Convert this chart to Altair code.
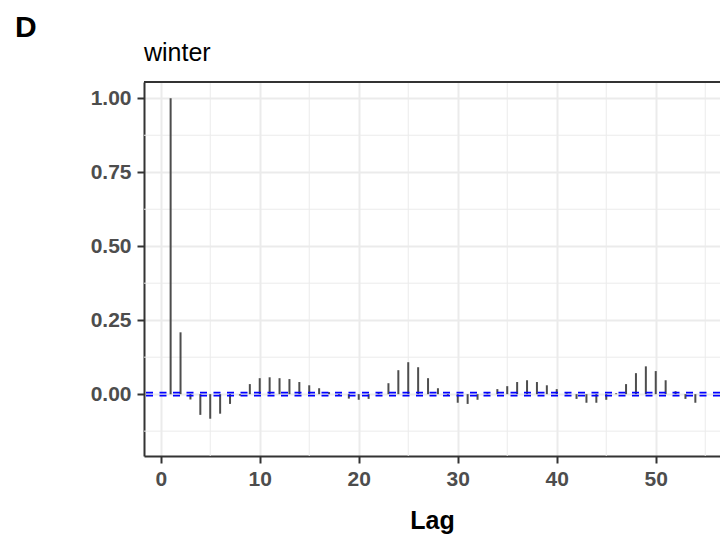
import altair as alt
import pandas as pd

# ---- text ----
panel_tag = ["D"]
panel_title = ["winter"]
x_title = "Lag"

# ---- data ----
lags = list(range(1, 55))
acf = [
    1.000, 0.209, -0.018, -0.070, -0.083, -0.066, -0.033, -0.005, 0.034, 0.054,
    0.057, 0.054, 0.051, 0.041, 0.030, 0.020, 0.007, -0.004, -0.015, -0.019,
    -0.016, 0.004, 0.037, 0.081, 0.108, 0.091, 0.054, 0.020, -0.003, -0.029,
    -0.033, -0.019, 0.003, 0.017, 0.027, 0.041, 0.047, 0.041, 0.030, 0.017,
    0.003, -0.016, -0.029, -0.029, -0.019, 0.003, 0.034, 0.071, 0.094, 0.078,
    0.047, 0.010, -0.016, -0.029,
]
ci = [0.0052, -0.0052]

x_major = [0, 10, 20, 30, 40, 50]
x_minor = [5, 15, 25, 35, 45, 55]
y_major = [0.0, 0.25, 0.5, 0.75, 1.0]
y_minor = [-0.125, 0.125, 0.375, 0.625, 0.875]

W, H = 576, 374
FONT = "Liberation Sans"
GRID = "#EBEBEB"
DARK = "#333333"

xscale = alt.Scale(domain=[-1.69, 56.49], nice=False, zero=False)
yscale = alt.Scale(domain=[-0.209, 1.055], nice=False, zero=False)

df = pd.DataFrame({"lag": lags, "acf": acf})

x_axis = alt.Axis(
    values=x_major, format="d", title=x_title, grid=True, gridColor=GRID, gridWidth=2,
    domainColor=DARK, domainWidth=2, tickColor=DARK, tickWidth=2, tickSize=7,
    labelPadding=5, labelFont=FONT, labelFontSize=21, labelFontWeight="bold",
    labelColor="#4D4D4D", labelFlush=False, labelOverlap=False,
    titleFont=FONT, titleFontSize=25, titleFontWeight="bold", titleColor="black",
    titleBaseline="alphabetic", titleY=72,
)
y_axis = alt.Axis(
    values=y_major, format=".2f", title="", grid=True, gridColor=GRID, gridWidth=2,
    domainColor=DARK, domainWidth=2, tickColor=DARK, tickWidth=2, tickSize=7,
    labelPadding=6, labelFont=FONT, labelFontSize=21, labelFontWeight="bold",
    labelColor="#4D4D4D", labelFlush=False, labelOverlap=False,
)

minor_x = alt.Chart(pd.DataFrame({"mx": x_minor})).mark_rule(
    color=GRID, strokeWidth=1
).encode(x=alt.X("mx:Q", scale=xscale, axis=x_axis))

minor_y = alt.Chart(pd.DataFrame({"my": y_minor})).mark_rule(
    color=GRID, strokeWidth=1
).encode(y=alt.Y("my:Q", scale=yscale, axis=y_axis))

spikes = alt.Chart(df).mark_rule(color="#4D4D4D", strokeWidth=2).encode(
    x=alt.X("lag:Q", scale=xscale, axis=x_axis),
    y=alt.Y("acf:Q", scale=yscale, axis=y_axis),
    y2=alt.datum(0),
)

ci_lines = alt.Chart(pd.DataFrame({"ci": ci})).mark_rule(
    color="#0000FF", strokeWidth=1.8, strokeDash=[7, 6.5]
).encode(y=alt.Y("ci:Q", scale=yscale, axis=y_axis))

top_border = alt.Chart(pd.DataFrame({"a": [0]})).mark_rule(
    color=DARK, strokeWidth=2
).encode(x=alt.value(0), x2=alt.value(W), y=alt.value(0))

tag = alt.Chart(pd.DataFrame({"t": panel_tag})).mark_text(
    align="left", baseline="alphabetic", font=FONT, fontSize=30,
    fontWeight="bold", color="black"
).encode(x=alt.value(-129), y=alt.value(-45), text="t:N")

title = alt.Chart(pd.DataFrame({"t": panel_title})).mark_text(
    align="left", baseline="alphabetic", font=FONT, fontSize=25, color="black"
).encode(x=alt.value(0), y=alt.value(-21), text="t:N")

chart = alt.layer(minor_x, minor_y, spikes, ci_lines, top_border, tag, title).properties(
    width=W, height=H,
    autosize=alt.AutoSizeParams(type="none"),
    padding={"left": 144, "top": 82, "right": 0, "bottom": 82},
    background="white",
).configure_view(strokeWidth=0)

chart.save("out.html", embed_options={"renderer": "svg", "actions": False})
